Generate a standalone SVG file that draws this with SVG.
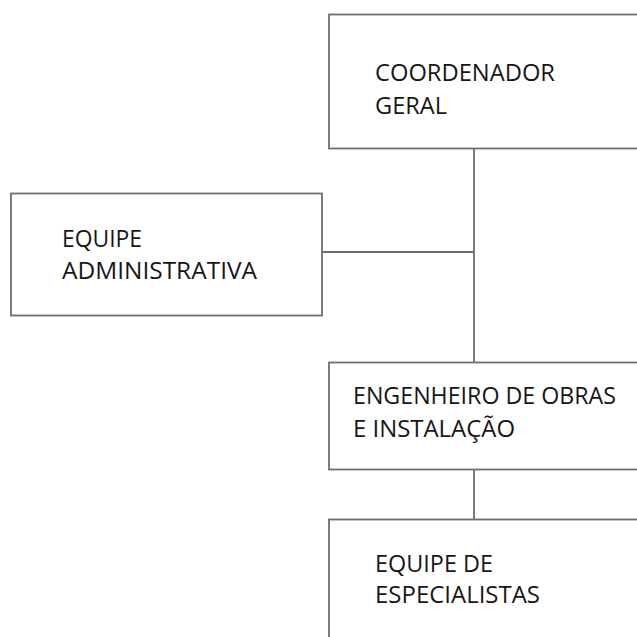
<svg xmlns="http://www.w3.org/2000/svg" width="637" height="637" viewBox="0 0 637 637">
<style>
.box{fill:#fff;stroke:#6e6e6e;stroke-width:1.8}
.lbl{font-family:"Open Sans","Noto Sans","Liberation Sans",sans-serif;font-size:23px;fill:#161616}
.con{stroke:#6e6e6e;stroke-width:1.8;fill:none}
</style>
<rect width="637" height="637" fill="#fff"/>
<g id="connectors">
<line class="con" x1="474" y1="148" x2="474" y2="362"/>
<line class="con" x1="322" y1="252" x2="474" y2="252"/>
<line class="con" x1="474" y1="470" x2="474" y2="519"/>
</g>
<g id="coordenador">
<rect class="box" x="329" y="14.5" width="320" height="134"/>
<text class="lbl" x="375" y="81" textLength="180" lengthAdjust="spacingAndGlyphs">COORDENADOR</text>
<text class="lbl" x="375" y="114" textLength="72" lengthAdjust="spacingAndGlyphs">GERAL</text>
</g>
<g id="administrativa">
<rect class="box" x="11" y="193.5" width="311" height="122"/>
<text class="lbl" x="62" y="247" textLength="80" lengthAdjust="spacingAndGlyphs">EQUIPE</text>
<text class="lbl" x="62" y="279" textLength="195" lengthAdjust="spacingAndGlyphs">ADMINISTRATIVA</text>
</g>
<g id="engenheiro">
<rect class="box" x="329" y="362.5" width="320" height="107"/>
<text class="lbl" x="353" y="404" textLength="263" lengthAdjust="spacingAndGlyphs">ENGENHEIRO DE OBRAS</text>
<text class="lbl" x="353" y="437" textLength="162" lengthAdjust="spacingAndGlyphs">E INSTALAÇÃO</text>
</g>
<g id="especialistas">
<rect class="box" x="329" y="519.5" width="320" height="140"/>
<text class="lbl" x="375" y="572" textLength="118" lengthAdjust="spacingAndGlyphs">EQUIPE DE</text>
<text class="lbl" x="375" y="603" textLength="165" lengthAdjust="spacingAndGlyphs">ESPECIALISTAS</text>
</g>
</svg>
